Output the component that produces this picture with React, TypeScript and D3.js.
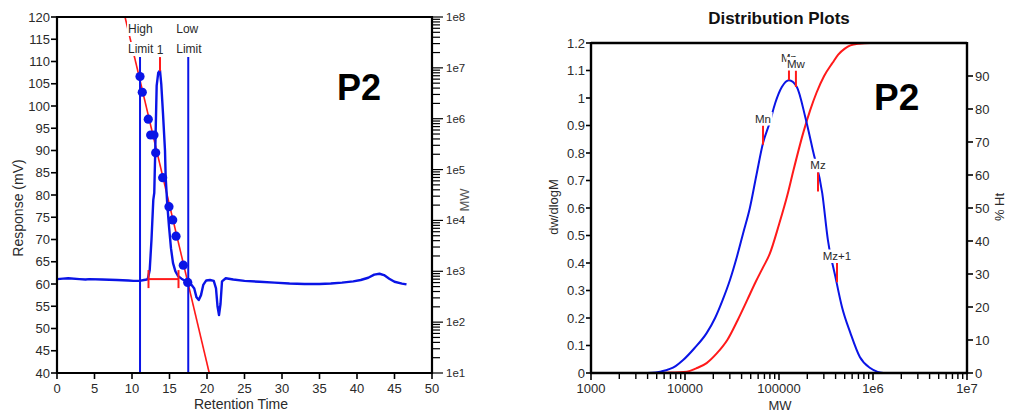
import React from "react";
import * as d3 from "d3";

// ---------- Left chart data ----------
const rtTime = [0, 0.8, 1.5, 3, 3.8, 4.3, 6, 8, 9.5, 10.2, 11, 11.6, 12.0, 12.13, 12.36, 12.6, 12.84, 12.97, 13.1, 13.29, 13.5, 13.73, 13.9, 14.13, 14.4, 14.49, 14.7, 14.93, 15.2, 15.47, 15.8, 16.13, 16.6, 17.0, 17.5, 17.9, 18.3, 18.6, 18.9, 19.2, 19.5, 19.9, 20.4, 20.9, 21.2, 21.4, 21.6, 21.8, 22.0, 22.5, 23.5, 25, 27, 29, 31, 33, 35, 36.5, 38, 39.5, 40.5, 41.5, 42.3, 43.0, 43.6, 44.3, 45.0, 46.0, 46.6];
const rtResponse = [61.1, 61.2, 61.3, 61.1, 61.0, 61.1, 61.0, 60.9, 60.8, 60.7, 60.7, 60.9, 61.0, 61.3, 63.1, 70, 78.9, 80.5, 90, 104.6, 107.5, 108, 105, 98.4, 90, 84, 78, 73, 68, 64.7, 62.8, 61.8, 61.2, 60.8, 60.3, 59.9, 59.0, 57.0, 56.4, 57.5, 59.8, 60.8, 60.9, 60.7, 59.0, 55.0, 53.0, 55.5, 60.6, 61.3, 61.0, 60.7, 60.5, 60.3, 60.1, 60.0, 60.0, 60.1, 60.3, 60.6, 60.9, 61.4, 62.1, 62.3, 62.0, 61.2, 60.5, 60.1, 59.9];

// calibration points: retention time, log10(MW)
const calTime = [11.07, 11.37, 12.17, 12.49, 12.93, 13.16, 14.09, 14.93, 15.43, 15.87, 16.84, 17.43];
const calLogMW = [6.83, 6.52, 5.99, 5.68, 5.68, 5.33, 4.84, 4.27, 4.01, 3.69, 3.12, 2.78];
// calibration fit line endpoints
const fitTime = [9.07, 20.3];
const fitMW = [1e8, 1e1];

const limitTimes = [11.07, 17.5];
const limitNames = ["High", "Low"];
const peakTime = 13.73;
const peakRange = [107.8, 111];
const baselineRange = [12.2, 16.2];
const baselineLevel = 61.1;

const xTicksL = d3.range(0, 51, 5);
const yTicksL = d3.range(40, 121, 5);
const mwDecades = [1, 2, 3, 4, 5, 6, 7, 8];

// ---------- Right chart data ----------
const distLogM = [3.6, 3.75, 3.9, 3.98, 4.1, 4.23, 4.32, 4.4, 4.48, 4.55, 4.62, 4.69, 4.76, 4.83, 4.9, 4.96, 5.03, 5.106, 5.19, 5.28, 5.36, 5.46, 5.52, 5.6, 5.67, 5.76, 5.86, 5.97, 6.05, 6.11];
const distVal = [0, 0.006, 0.025, 0.047, 0.09, 0.145, 0.2, 0.265, 0.34, 0.42, 0.51, 0.6, 0.72, 0.836, 0.909, 0.982, 1.04, 1.065, 1.04, 0.93, 0.81, 0.654, 0.484, 0.35, 0.24, 0.145, 0.058, 0.018, 0.004, 0];

const cumLogM = [3.57, 3.8, 4.02, 4.12, 4.23, 4.34, 4.45, 4.56, 4.66, 4.75, 4.83, 4.9, 5.0, 5.09, 5.15, 5.26, 5.33, 5.4, 5.48, 5.57, 5.63, 5.7, 5.76, 5.85, 5.97, 6.15];
const cumPct = [0, 0.1, 0.4, 1.4, 3, 6, 10, 16, 22, 27.5, 32, 36, 45, 54, 61, 73, 79.5, 85, 90, 94, 96.5, 98.3, 99.3, 99.8, 100, 100];

const markerNames = ["Mn", "Mp", "Mw", "Mz", "Mz+1"];
const markerLogM = [4.83, 5.106, 5.18, 5.415, 5.617];
const markerLo = [0.83, 1.065, 1.04, 0.66, 0.33];
const markerHi = [0.9, 1.11, 1.1, 0.73, 0.4];

const xTicksR = [1000, 10000, 100000, 1e6, 1e7];
const xTickLabelsR = ["1000", "10000", "100000", "1e6", "1e7"];
const yTicksR = d3.range(0, 1.21, 0.1).map((v) => Math.round(v * 10) / 10);
const pctTicks = d3.range(0, 91, 10);

const BLUE = "#0a14e6";
const RED = "#ff1a1a";
const TXT = "#2a2a2a";
const FONT = "Liberation Sans, Arial, sans-serif";

export default function App() {
  // Left scales
  const xL = d3.scaleLinear().domain([0, 50]).range([57, 432]);
  const yL = d3.scaleLinear().domain([40, 120]).range([373, 17]);
  const yMW = d3.scaleLog().domain([10, 1e8]).range([373, 17]);

  const trace = d3
    .line<number>()
    .x((_, i) => xL(rtTime[i]))
    .y((_, i) => yL(rtResponse[i]))(rtTime) as string;

  // Right scales
  const xR = d3.scaleLog().domain([1000, 1e7]).range([591, 967]);
  const yR = d3.scaleLinear().domain([0, 1.2]).range([373, 43]);
  const yP = d3.scaleLinear().domain([0, 100]).range([373, 43]);

  const distPath = d3
    .line<number>()
    .x((_, i) => xR(Math.pow(10, distLogM[i])))
    .y((_, i) => yR(distVal[i]))
    .curve(d3.curveMonotoneX)(distLogM) as string;
  const cumPath = d3
    .line<number>()
    .x((_, i) => xR(Math.pow(10, cumLogM[i])))
    .y((_, i) => yP(cumPct[i]))
    .curve(d3.curveMonotoneX)(cumLogM) as string;

  const mwTicks: { v: number; major: boolean }[] = [];
  mwDecades.forEach((k) => {
    mwTicks.push({ v: Math.pow(10, k), major: true });
    if (k < 8) for (let m = 2; m <= 9; m++) mwTicks.push({ v: m * Math.pow(10, k), major: false });
  });
  const xMinorR: number[] = [];
  for (let k = 3; k < 7; k++) for (let m = 2; m <= 9; m++) xMinorR.push(m * Math.pow(10, k));

  const labelBox = (x: number, y: number, text: string, size: number, anchor: "start" | "middle", w: number) => (
    <g key={text + x + y}>
      <rect x={anchor === "middle" ? x - w / 2 : x - 1} y={y - size + 1} width={w} height={size + 2} fill="#fff" />
      <text x={x} y={y} fontSize={size} textAnchor={anchor} fill={TXT}>
        {text}
      </text>
    </g>
  );

  return (
    <svg width={1009} height={414} style={{ position: "absolute", left: 0, top: 0 }} fontFamily={FONT}>
      <rect width={1009} height={414} fill="#fff" />
      {/* ================= LEFT CHART ================= */}
      <g>
        {/* calibration fit line */}
        <line x1={xL(fitTime[0])} y1={yMW(fitMW[0])} x2={xL(fitTime[1])} y2={yMW(fitMW[1])} stroke={RED} strokeWidth={1.6} />
        {/* limits */}
        {limitTimes.map((t) => (
          <line key={t} x1={xL(t)} x2={xL(t)} y1={yL(111)} y2={yL(40)} stroke={BLUE} strokeWidth={2} />
        ))}
        {/* trace */}
        <path d={trace} fill="none" stroke={BLUE} strokeWidth={2.4} strokeLinejoin="round" />
        {/* baseline */}
        <line x1={xL(baselineRange[0])} x2={xL(baselineRange[1])} y1={yL(baselineLevel)} y2={yL(baselineLevel)} stroke={RED} strokeWidth={2} />
        {baselineRange.map((t) => (
          <line key={t} x1={xL(t)} x2={xL(t)} y1={yL(baselineLevel) - 9} y2={yL(baselineLevel) + 9} stroke={RED} strokeWidth={2} />
        ))}
        {/* peak marker */}
        <line x1={xL(peakTime)} x2={xL(peakTime)} y1={yL(peakRange[0])} y2={yL(peakRange[1])} stroke={RED} strokeWidth={2} />
        <text x={xL(peakTime)} y={54} fontSize={12} textAnchor="middle" fill={TXT}>1</text>
        {/* calibration points */}
        {calTime.map((t, i) => (
          <circle key={i} cx={xL(t)} cy={yMW(Math.pow(10, calLogMW[i]))} r={4.6} fill={BLUE} />
        ))}
        {/* limit labels */}
        {limitTimes.map((t, i) => (
          <g key={"lab" + i}>
            {labelBox(xL(t) - 12, 33, limitNames[i], 12, "start", i === 0 ? 28 : 26)}
            {labelBox(xL(t) - 12, 53, "Limit", 12, "start", 27)}
          </g>
        ))}
        {/* frame */}
        <line x1={57} x2={432} y1={17} y2={17} stroke="#000" strokeWidth={2} />
        <line x1={57} x2={57} y1={16} y2={374} stroke="#000" strokeWidth={2.2} />
        <line x1={56} x2={433} y1={373} y2={373} stroke="#000" strokeWidth={2.2} />
        <line x1={432} x2={432} y1={16} y2={374} stroke="#000" strokeWidth={2.2} />
        {/* x ticks */}
        {xTicksL.map((t) => (
          <g key={"xt" + t}>
            <line x1={xL(t)} x2={xL(t)} y1={373} y2={379} stroke="#000" strokeWidth={1.6} />
            <text x={xL(t)} y={393} fontSize={13} textAnchor="middle" fill={TXT}>{t}</text>
          </g>
        ))}
        {/* y ticks */}
        {yTicksL.map((v) => (
          <g key={"yt" + v}>
            <line x1={51} x2={57} y1={yL(v)} y2={yL(v)} stroke="#000" strokeWidth={1.6} />
            <text x={50} y={yL(v) + 4.5} fontSize={13} textAnchor="end" fill={TXT}>{v}</text>
          </g>
        ))}
        {/* MW ticks */}
        {mwTicks.map((d, i) => (
          <line key={"mw" + i} x1={432} x2={d.major ? 443 : 440} y1={yMW(d.v)} y2={yMW(d.v)} stroke="#000" strokeWidth={1.2} />
        ))}
        {mwDecades.map((k) => (
          <text key={"mwl" + k} x={446} y={yMW(Math.pow(10, k)) + 4} fontSize={11.5} fill={TXT}>{"1e" + k}</text>
        ))}
        <text transform="translate(469,200) rotate(-90)" fontSize={13} textAnchor="middle" fill="#555">MW</text>
        <text transform="translate(23,208) rotate(-90)" fontSize={14} textAnchor="middle" fill={TXT}>Response (mV)</text>
        <text x={241} y={409} fontSize={14} textAnchor="middle" fill={TXT}>Retention Time</text>
        <text x={337} y={100} fontSize={36} fontWeight="bold" fill="#000">P2</text>
      </g>

      {/* ================= RIGHT CHART ================= */}
      <g>
        <text x={779} y={24} fontSize={17} fontWeight="bold" textAnchor="middle" fill="#111">Distribution Plots</text>
        <path d={cumPath} fill="none" stroke={RED} strokeWidth={2} />
        <path d={distPath} fill="none" stroke={BLUE} strokeWidth={2} />
        {markerNames.map((n, i) => (
          <line key={"mk" + n} x1={xR(Math.pow(10, markerLogM[i]))} x2={xR(Math.pow(10, markerLogM[i]))} y1={yR(markerLo[i])} y2={yR(markerHi[i])} stroke={RED} strokeWidth={2} />
        ))}
        {markerNames.map((n, i) => {
          const x = xR(Math.pow(10, markerLogM[i]));
          const y = yR(markerHi[i]) - (n === "Mp" ? 6 : 3);
          const w = n === "Mz+1" ? 32 : 19;
          return labelBox(x, y, n, 11.5, "middle", w);
        })}
        {/* frame */}
        <line x1={591} x2={967} y1={43} y2={43} stroke="#000" strokeWidth={2.4} />
        <line x1={591} x2={591} y1={42} y2={374} stroke="#000" strokeWidth={2.4} />
        <line x1={590} x2={968} y1={373} y2={373} stroke="#000" strokeWidth={2.4} />
        <line x1={967} x2={967} y1={42} y2={374} stroke="#000" strokeWidth={2.4} />
        {xTicksR.map((v, i) => (
          <g key={"xr" + v}>
            <line x1={xR(v)} x2={xR(v)} y1={373} y2={380} stroke="#000" strokeWidth={1.6} />
            <text x={xR(v)} y={393} fontSize={13} textAnchor="middle" fill={TXT}>{xTickLabelsR[i]}</text>
          </g>
        ))}
        {xMinorR.map((v) => (
          <line key={"xm" + v} x1={xR(v)} x2={xR(v)} y1={373} y2={379} stroke="#000" strokeWidth={1.4} />
        ))}
        {yTicksR.map((v) => (
          <g key={"yr" + v}>
            <line x1={586} x2={591} y1={yR(v)} y2={yR(v)} stroke="#000" strokeWidth={1.6} />
            <text x={585} y={yR(v) + 4.5} fontSize={13} textAnchor="end" fill={TXT}>{v}</text>
          </g>
        ))}
        {pctTicks.map((v) => (
          <g key={"pt" + v}>
            <line x1={967} x2={973} y1={yP(v)} y2={yP(v)} stroke="#000" strokeWidth={1.6} />
            <text x={975} y={yP(v) + 4.5} fontSize={13} fill={TXT}>{v}</text>
          </g>
        ))}
        <text transform="translate(558,207) rotate(-90)" fontSize={13} textAnchor="middle" fill={TXT}>dw/dlogM</text>
        <text transform="translate(1004,207) rotate(-90)" fontSize={13} textAnchor="middle" fill={TXT}>% Ht</text>
        <text x={780} y={410} fontSize={13} textAnchor="middle" fill={TXT}>MW</text>
        <text x={874} y={110} fontSize={37} fontWeight="bold" fill="#000">P2</text>
      </g>
    </svg>
  );
}
